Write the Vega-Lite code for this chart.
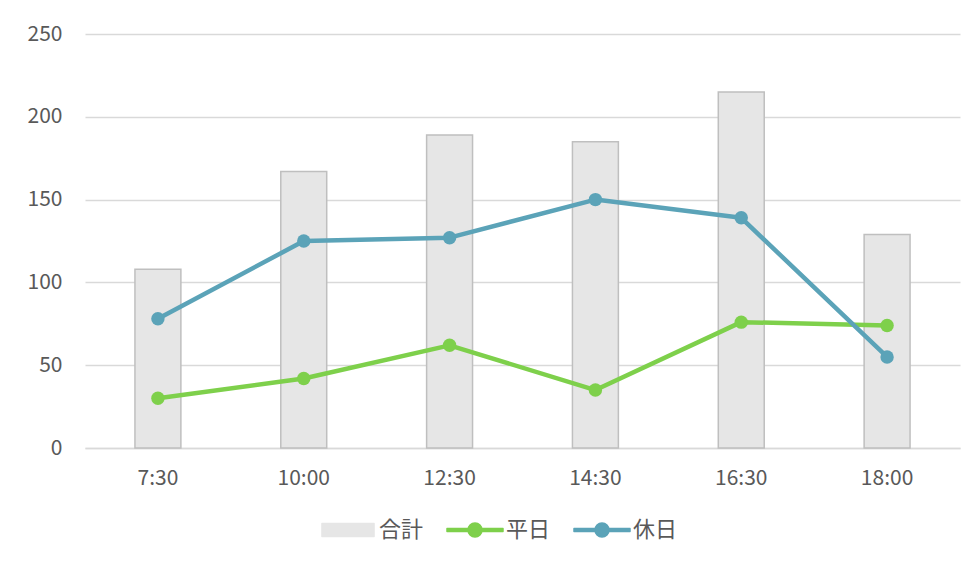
{
  "$schema": "https://vega.github.io/schema/vega-lite/v6.json",
  "width": 875,
  "height": 414,
  "autosize": {"type": "none"},
  "padding": {"left": 85, "top": 34, "right": 17, "bottom": 119},
  "background": "#ffffff",
  "config": {
    "view": {"stroke": null},
    "font": "Noto Sans CJK JP",
    "axis": {"labelFont": "Noto Sans CJK JP", "labelColor": "#595959", "labelFontSize": 21, "ticks": false, "title": null},
    "legend": {"labelFont": "Noto Sans CJK JP", "labelColor": "#595959", "labelFontSize": 22}
  },
  "data": {
    "values": [
      {"time": "7:30", "series": "合計", "value": 108},
      {"time": "10:00", "series": "合計", "value": 167},
      {"time": "12:30", "series": "合計", "value": 189},
      {"time": "14:30", "series": "合計", "value": 185},
      {"time": "16:30", "series": "合計", "value": 215},
      {"time": "18:00", "series": "合計", "value": 129},
      {"time": "7:30", "series": "平日", "value": 30},
      {"time": "10:00", "series": "平日", "value": 42},
      {"time": "12:30", "series": "平日", "value": 62},
      {"time": "14:30", "series": "平日", "value": 35},
      {"time": "16:30", "series": "平日", "value": 76},
      {"time": "18:00", "series": "平日", "value": 74},
      {"time": "7:30", "series": "休日", "value": 78},
      {"time": "10:00", "series": "休日", "value": 125},
      {"time": "12:30", "series": "休日", "value": 127},
      {"time": "14:30", "series": "休日", "value": 150},
      {"time": "16:30", "series": "休日", "value": 139},
      {"time": "18:00", "series": "休日", "value": 55}
    ]
  },
  "encoding": {
    "x": {
      "field": "time", "type": "ordinal", "sort": null,
      "scale": {"paddingInner": 0.685, "paddingOuter": 0.3425},
      "axis": {"labelAngle": 0, "labelPadding": 19, "domainColor": "#d9d9d9", "domainWidth": 1.5, "grid": false}
    },
    "y": {
      "field": "value", "type": "quantitative",
      "scale": {"domain": [0, 250]},
      "axis": {"values": [0, 50, 100, 150, 200, 250], "domain": false, "gridColor": "#d9d9d9", "gridWidth": 1.5, "labelPadding": 23}
    },
    "color": {
      "field": "series", "type": "nominal",
      "scale": {"domain": ["合計", "平日", "休日"], "range": ["#e6e6e6", "#7ed04b", "#5ba3b8"]},
      "legend": {
        "title": null, "orient": "none", "legendX": 234, "legendY": 467, "direction": "horizontal",
        "symbolSize": 3136, "symbolStrokeWidth": 1.5, "labelOffset": 2, "columnPadding": 22,
        "encode": {
          "symbols": {
            "update": {
              "size": {"value": 3136},
              "strokeWidth": {"value": 1.5},
              "shape": {"signal": "datum.value === '合計' ? 'M-0.93,-0.23H0.93V0.23H-0.93Z' : 'M-1,-0.055H1V0.055H-1Z M-0.25,0A0.25,0.25 0 1,1 0.25,0A0.25,0.25 0 1,1 -0.25,0Z'"},
              "fill": {"signal": "scale('color', datum.value)"},
              "stroke": {"signal": "datum.value === '合計' ? '#bfbfbf' : scale('color', datum.value)"},
              "strokeOpacity": {"value": 1},
              "strokeJoin": {"value": "round"},
              "opacity": {"value": 1},
              "fillOpacity": {"value": 1}
            }
          }
        }
      }
    }
  },
  "layer": [
    {
      "transform": [{"filter": "datum.series === '合計'"}],
      "mark": {"type": "bar", "stroke": "#bfbfbf", "strokeWidth": 1.5, "fillOpacity": 1}
    },
    {
      "transform": [{"filter": "datum.series !== '合計'"}],
      "mark": {"type": "line", "strokeWidth": 4.5, "strokeCap": "round", "strokeJoin": "round", "point": {"size": 180, "filled": true, "opacity": 1}}
    }
  ]
}
